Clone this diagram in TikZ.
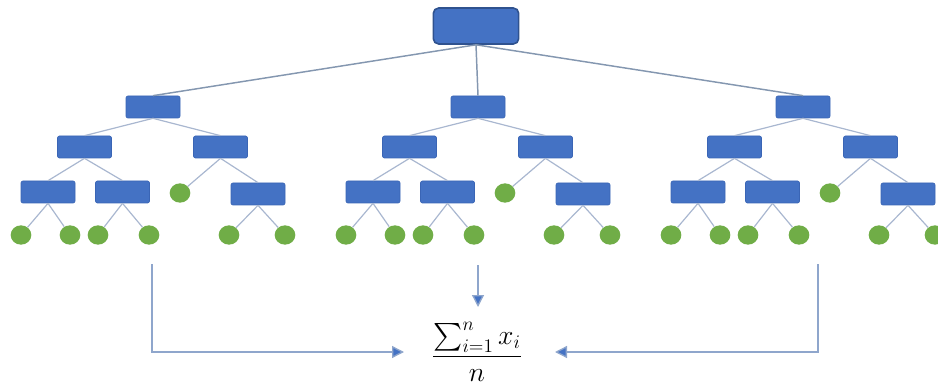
\documentclass[tikz,border=0pt]{standalone}
\usepackage{amsmath}
\usetikzlibrary{shapes.geometric,arrows.meta}
\definecolor{boxfill}{HTML}{4472C4}
\definecolor{boxedge}{HTML}{3A65B5}
\definecolor{rootedge}{HTML}{2F528F}
\definecolor{leaffill}{HTML}{70AD47}
\definecolor{edgecol}{HTML}{A9B7D0}
\definecolor{rootline}{HTML}{8497B0}
\definecolor{arrline}{HTML}{8FA6CC}
\tikzset{
  treebox/.style={rectangle, rounded corners=1.5pt, fill=boxfill, draw=boxedge, line width=0.5pt,
    minimum width=40.5pt, minimum height=16.5pt, inner sep=0pt},
  rootbox/.style={rectangle, rounded corners=4pt, fill=boxfill, draw=rootedge, line width=1.2pt,
    minimum width=64pt, minimum height=27pt, inner sep=0pt},
  leaf/.style={ellipse, fill=leaffill, draw=none, minimum width=15.5pt, minimum height=14.5pt, inner sep=0pt},
  treeline/.style={draw=edgecol, line width=0.9pt},
  rootlink/.style={draw=rootline, line width=1.1pt},
  aggline/.style={draw=arrline, line width=1pt, -{Triangle[length=9pt,width=9pt,fill=boxfill]}},
}
\begin{document}
\begin{tikzpicture}[x=0.75pt,y=-0.75pt]
\useasboundingbox (0,0) rectangle (938,388);
\node[rootbox] (R) at (476,26) {};
\foreach \o/\n in {0/A,325/B,650/C}{
  \node[treebox] (\n) at (153+\o,107) {};
  \node[treebox] (\n1) at (84.5+\o,147) {};
  \node[treebox] (\n2) at (220.5+\o,147) {};
  \node[treebox] (\n11) at (48+\o,192) {};
  \node[treebox] (\n12) at (122.5+\o,192) {};
  \node[leaf] (\n21) at (180+\o,193) {};
  \node[treebox] (\n22) at (258+\o,194) {};
  \node[leaf] (\n111) at (21+\o,235) {};
  \node[leaf] (\n112) at (70+\o,235) {};
  \node[leaf] (\n121) at (98+\o,235) {};
  \node[leaf] (\n122) at (149+\o,235) {};
  \node[leaf] (\n221) at (229+\o,235) {};
  \node[leaf] (\n222) at (285+\o,235) {};
  \draw[treeline] (\n.south) -- (\n1.north);
  \draw[treeline] (\n.south) -- (\n2.north);
  \draw[treeline] (\n1.south) -- (\n11.north);
  \draw[treeline] (\n1.south) -- (\n12.north);
  \draw[treeline] (\n2.south) -- (\n21);
  \draw[treeline] (\n2.south) -- (\n22.north);
  \draw[treeline] (\n11.south) -- (\n111);
  \draw[treeline] (\n11.south) -- (\n112);
  \draw[treeline] (\n12.south) -- (\n121);
  \draw[treeline] (\n12.south) -- (\n122);
  \draw[treeline] (\n22.south) -- (\n221);
  \draw[treeline] (\n22.south) -- (\n222);
  \draw[rootlink] (R.south) -- (\n.north);
}
\node[inner sep=0pt, anchor=base] (F) at (477,363)
  {\fontsize{20.5}{24}\selectfont$\dfrac{\textstyle\sum_{i=1}^{n} x_i}{n}$};
\coordinate (ls) at (152,264);
\coordinate (lc) at (152,352);
\coordinate (le) at (404,352);
\coordinate (ms) at (478,265);
\coordinate (me) at (478,307);
\coordinate (rs) at (818,264);
\coordinate (rc) at (818,352);
\coordinate (re) at (555,352);
\draw[aggline] (ls) -- (lc) -- (le);
\draw[aggline] (ms) -- (me);
\draw[aggline] (rs) -- (rc) -- (re);
\end{tikzpicture}
\end{document}
